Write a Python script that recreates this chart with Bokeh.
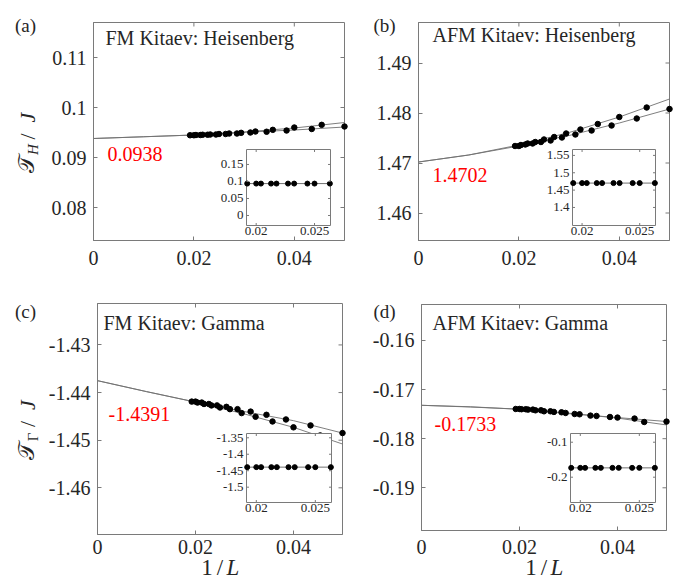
import numpy as np
from bokeh.plotting import figure
from bokeh.layouts import gridplot
from bokeh.models import Range1d, FixedTicker, Label
from bokeh.core.properties import value
from bokeh.embed import file_html
from bokeh.resources import INLINE

# ---------------- data ----------------
L_A = [20, 23, 26, 29, 32, 35, 38, 41, 44, 47, 50]      # family A system sizes
L_B = [22, 25, 28, 31, 34, 37, 40, 43, 46, 49, 52]      # family B system sizes
L_INSET = [52, 50, 49, 47, 46, 44, 43, 41, 40, 38]
FIT_X = [0.0, 0.01, 0.02, 0.03, 0.04, 0.05]

X_LIM = (0.0, 0.05)
X_TICKS = [0, 0.02, 0.04]
X_LABELS = ["0", "0.02", "0.04"]
INSET_XT = [0.02, 0.025]
INSET_XL = ["0.02", "0.025"]
INSET_XR = (0.01917, 0.02637)

a_A = [0.0962, 0.0957, 0.0954, 0.09515, 0.0950, 0.0948, 0.0947, 0.0946, 0.09455, 0.0945, 0.09445]
a_B = [0.09653, 0.0960, 0.09553, 0.0952, 0.09493, 0.0948, 0.0947, 0.0946, 0.09455, 0.0945, 0.09445]
a_fitA = [0.0938, 0.09415, 0.0945, 0.09505, 0.0955, 0.0961]
a_fitB = [0.0938, 0.09415, 0.0945, 0.0951, 0.0959, 0.0970]
a_ext, a_ext_txt = 0.0938, "0.0938"
a_yr = (0.0734, 0.117)
a_yt, a_yl = [0.08, 0.09, 0.1, 0.11], ["0.08", "0.09", "0.1", "0.11"]
a_it, a_il, a_iyr = [0, 0.05, 0.1, 0.15], ["0", "0.05", "0.1", "0.15"], (-0.0294, 0.194)

b_A = [1.4808, 1.4789, 1.4775, 1.4765, 1.4757, 1.4751, 1.4745, 1.4742, 1.4739, 1.4737, 1.4734]
b_B = [1.4811, 1.4792, 1.4778, 1.4767, 1.4759, 1.4752, 1.4747, 1.4742, 1.4739, 1.4736, 1.4734]
b_fitA = [1.4702, 1.4716, 1.4734, 1.4755, 1.4780, 1.4808]
b_fitB = [1.4702, 1.4716, 1.4736, 1.4761, 1.4792, 1.4828]
b_ext, b_ext_txt = 1.4702, "1.4702"
b_yr = (1.4545, 1.4981)
b_yt, b_yl = [1.46, 1.47, 1.48, 1.49], ["1.46", "1.47", "1.48", "1.49"]
b_it, b_il, b_iyr = [1.4, 1.45, 1.5, 1.55], ["1.4", "1.45", "1.5", "1.55"], (1.348, 1.567)

c_A = [-1.4485, -1.4469, -1.44565, -1.44467, -1.4440, -1.44348, -1.4430, -1.4427, -1.4424, -1.4421, -1.4419]
c_B = [-1.4490, -1.4473, -1.44607, -1.44508, -1.44431, -1.44348, -1.44313, -1.4427, -1.4424, -1.4421, -1.4419]
c_fitA = [-1.4375, -1.4398, -1.4420, -1.4440, -1.4459, -1.4485]
c_fitB = [-1.4375, -1.4398, -1.4420, -1.4445, -1.4473, -1.4508]
c_ext, c_ext_txt = -1.4391, "-1.4391"
c_yr = (-1.4698, -1.4213)
c_yt, c_yl = [-1.46, -1.45, -1.44, -1.43], ["-1.46", "-1.45", "-1.44", "-1.43"]
c_it, c_il, c_iyr = [-1.5, -1.45, -1.4, -1.35], ["-1.5", "-1.45", "-1.4", "-1.35"], (-1.5465, -1.337)

d_A = [-0.17652, -0.1759, -0.17558, -0.1753, -0.17497, -0.17462, -0.17442, -0.17422, -0.17408, -0.1740, -0.17395]
d_B = [-0.1766, -0.1757, -0.17537, -0.17503, -0.17476, -0.17455, -0.17442, -0.17422, -0.17408, -0.1740, -0.17395]
d_fitA = [-0.1732, -0.1735, -0.1740, -0.1749, -0.1757, -0.1765]
d_fitB = [-0.1732, -0.17355, -0.1740, -0.1748, -0.1758, -0.1772]
d_ext, d_ext_txt = -0.1733, "-0.1733"
d_yr = (-0.1987, -0.15267)
d_yt, d_yl = [-0.19, -0.18, -0.17, -0.16], ["-0.19", "-0.18", "-0.17", "-0.16"]
d_it, d_il, d_iyr = [-0.2, -0.1], ["-0.2", "-0.1"], (-0.2723, -0.0751)

# ---------------- style / layout ----------------
SERIF = "Liberation Serif"
MATHF = "Liberation Serif, DejaVu Serif, DejaVu Sans, Noto Sans"
GRAY = "#7a7a7a"
TXT = "#262626"
FITC = "#707070"

panels = [
    dict(fig=(0, 0, 349, 290), box=(93, 344, 22, 240), yr=a_yr,
         yt=a_yt, yl=a_yl, A=a_A, B=a_B, fA=a_fitA, fB=a_fitB, ext=a_ext, ext_txt=a_ext_txt,
         title="FM Kitaev: Heisenberg", title_pos=(105, 37), red_pos=(107, 153),
         letter="(a)", letter_pos=(25, 25), inset=(246, 330, 149, 225), iyr=a_iyr,
         it=a_it, il=a_il, sub="H", ylab=True, xlab=False, xstand=10),
    dict(fig=(349, 0, 348, 290), box=(418, 669, 22, 240), yr=b_yr,
         yt=b_yt, yl=b_yl, A=b_A, B=b_B, fA=b_fitA, fB=b_fitB, ext=b_ext, ext_txt=b_ext_txt,
         title="AFM Kitaev: Heisenberg", title_pos=(432, 34), red_pos=(432, 174),
         letter="(b)", letter_pos=(384, 25), inset=(572, 655, 149, 225), iyr=b_iyr,
         it=b_it, il=b_il, sub=None, ylab=False, xlab=False, xstand=10),
    dict(fig=(0, 290, 349, 294), box=(97, 342, 303, 534), yr=c_yr,
         yt=c_yt, yl=c_yl, A=c_A, B=c_B, fA=c_fitA, fB=c_fitB, ext=c_ext, ext_txt=c_ext_txt,
         title="FM Kitaev: Gamma", title_pos=(103, 322), red_pos=(108, 413),
         letter="(c)", letter_pos=(25, 311), inset=(246, 331, 433, 502), iyr=c_iyr,
         it=c_it, il=c_il, sub="Γ", ylab=True, xlab=True, xstand=5),
    dict(fig=(349, 290, 348, 294), box=(421, 666, 304, 530), yr=d_yr,
         yt=d_yt, yl=d_yl, A=d_A, B=d_B, fA=d_fitA, fB=d_fitB, ext=d_ext, ext_txt=d_ext_txt,
         title="AFM Kitaev: Gamma", title_pos=(432, 322), red_pos=(434, 423),
         letter="(d)", letter_pos=(384, 311), inset=(570, 655, 433, 502), iyr=d_iyr,
         it=d_it, il=d_il, sub=None, ylab=False, xlab=True, xstand=9),
]


def style_axis(ax, ticks, labels, standoff, loc, bounds):
    ax.fixed_location = loc
    ax.bounds = bounds
    ax.ticker = FixedTicker(ticks=ticks)
    ax.major_label_overrides = dict(zip(ticks, labels))
    ax.major_tick_in = 4
    ax.major_tick_out = 0
    ax.minor_tick_line_color = None
    ax.axis_line_color = GRAY
    ax.major_tick_line_color = GRAY
    ax.major_label_text_font = SERIF
    ax.major_label_text_color = TXT
    ax.major_label_text_font_size = "20px"
    ax.major_label_standoff = standoff


def make(cfg):
    ox, oy, w, h = cfg["fig"]
    bx0, bx1, by0, by1 = cfg["box"]
    ylo, yhi = cfg["yr"]
    xlo, xhi = X_LIM
    kx = (bx1 - bx0) / (xhi - xlo)          # pixels per x unit
    ky = (by1 - by0) / (yhi - ylo)          # pixels per y unit
    xr = Range1d(xlo - (bx0 - ox) / kx, xhi + (ox + w - bx1) / kx)
    yr = Range1d(ylo - (oy + h - by1) / ky, yhi + (by0 - oy) / ky)
    p = figure(width=w, height=h, x_range=xr, y_range=yr,
               output_backend="svg", toolbar_location=None, min_border=0,
               min_border_left=0, min_border_right=0, min_border_top=0, min_border_bottom=0)
    p.xgrid.grid_line_color = None
    p.ygrid.grid_line_color = None
    p.outline_line_color = None
    p.background_fill_color = "white"
    p.border_fill_color = "white"

    style_axis(p.xaxis[0], X_TICKS, X_LABELS, cfg["xstand"], ylo, (xlo, xhi))
    style_axis(p.yaxis[0], cfg["yt"], cfg["yl"], 7, xlo, (ylo, yhi))

    # plot box with inward ticks on top and right
    p.quad(left=[xlo], right=[xhi], bottom=[ylo], top=[yhi], fill_color=None,
           line_color=GRAY, line_width=1)
    tl = 4.0
    tx0 = list(X_TICKS) + [xhi] * len(cfg["yt"])
    tx1 = list(X_TICKS) + [xhi - tl / kx] * len(cfg["yt"])
    ty0 = [yhi] * len(X_TICKS) + list(cfg["yt"])
    ty1 = [yhi - tl / ky] * len(X_TICKS) + list(cfg["yt"])
    p.segment(x0=tx0, y0=ty0, x1=tx1, y1=ty1, line_color=GRAY, line_width=1)

    # fits and data
    p.line(FIT_X, cfg["fA"], line_color=FITC, line_width=0.9)
    p.line(FIT_X, cfg["fB"], line_color=FITC, line_width=0.9)
    p.scatter(1.0 / np.array(L_A), cfg["A"], size=5.5, color="black")
    p.scatter(1.0 / np.array(L_B), cfg["B"], size=5.5, color="black")

    # inset, mapped through extra ranges onto its own sub-box
    I = cfg["inset"]
    a, b = INSET_XR
    c, d = cfg["iyr"]
    sxp = (b - a) / (I[1] - I[0])
    syp = (d - c) / (I[3] - I[2])
    p.extra_x_ranges = {"ix": Range1d(a - (I[0] - ox) * sxp, b + (ox + w - I[1]) * sxp)}
    p.extra_y_ranges = {"iy": Range1d(c - (oy + h - I[3]) * syp, d + (I[2] - oy) * syp)}
    kw = dict(x_range_name="ix", y_range_name="iy")
    p.quad(left=[a], right=[b], bottom=[c], top=[d], fill_color="white",
           line_color=GRAY, line_width=1, **kw)
    ext = cfg["ext"]
    p.line([a, b], [ext, ext], line_color=FITC, line_width=1, **kw)
    p.scatter(1.0 / np.array(L_INSET), [ext] * len(L_INSET), size=5, color="black", **kw)
    itl = 2.5
    x0s, x1s, y0s, y1s = [], [], [], []
    for t in INSET_XT:
        x0s += [t, t]; x1s += [t, t]
        y0s += [c, d]; y1s += [c + itl * syp, d - itl * syp]
    for v in cfg["it"]:
        x0s += [a, b]; x1s += [a + itl * sxp, b - itl * sxp]
        y0s += [v, v]; y1s += [v, v]
    p.segment(x0=x0s, y0=y0s, x1=x1s, y1=y1s, line_color=GRAY, line_width=1, **kw)
    p.text(x=[a] * len(cfg["it"]), y=cfg["it"], text=cfg["il"], x_offset=-3,
           text_align="right", text_baseline="middle", text_font=value(SERIF),
           text_font_size="13px", text_color=TXT, **kw)
    p.text(x=INSET_XT, y=[c] * len(INSET_XT), text=INSET_XL, y_offset=1,
           text_align="center", text_baseline="top", text_font=value(SERIF),
           text_font_size="13px", text_color=TXT, **kw)

    # texts (positions given in page pixels, converted to frame-relative screen units)
    def lab(sx, sy, text, size, color=TXT, style="normal", font=SERIF, align="center", angle=0.0):
        p.add_layout(Label(x=sx - ox, y=oy + h - sy, x_units="screen", y_units="screen",
                           text=text, text_font=font, text_font_size=f"{size}px",
                           text_font_style=style, text_color=color, text_align=align,
                           text_baseline="middle", angle=angle))

    tx, ty = cfg["title_pos"]
    lab(tx, ty, cfg["title"], 20, align="left")
    rx, ry = cfg["red_pos"]
    lab(rx, ry, cfg["ext_txt"], 20, color="red", align="left")
    lx, ly = cfg["letter_pos"]
    lab(lx, ly, cfg["letter"], 19)

    if cfg["ylab"]:
        yc = (by0 + by1) / 2.0
        lab(26, yc + 32, "𝒯", 23, font=MATHF, angle=np.pi / 2)
        lab(32, yc + 18, cfg["sub"], 15,
            style="italic" if cfg["sub"] == "H" else "normal", angle=np.pi / 2)
        lab(27, yc + 5, "/", 22, angle=np.pi / 2)
        lab(27, yc - 14, "J", 22, style="italic", angle=np.pi / 2)
    if cfg["xlab"]:
        xc = (bx0 + bx1) / 2.0
        lab(xc - 13, 567, "1", 23)
        lab(xc, 567, "/", 23)
        lab(xc + 13, 567, "L", 23, style="italic")
    return p


figs = [make(cfg) for cfg in panels]
grid = gridplot([[figs[0], figs[1]], [figs[2], figs[3]]], toolbar_location=None)
open("out.html", "w").write(file_html(grid, INLINE))
